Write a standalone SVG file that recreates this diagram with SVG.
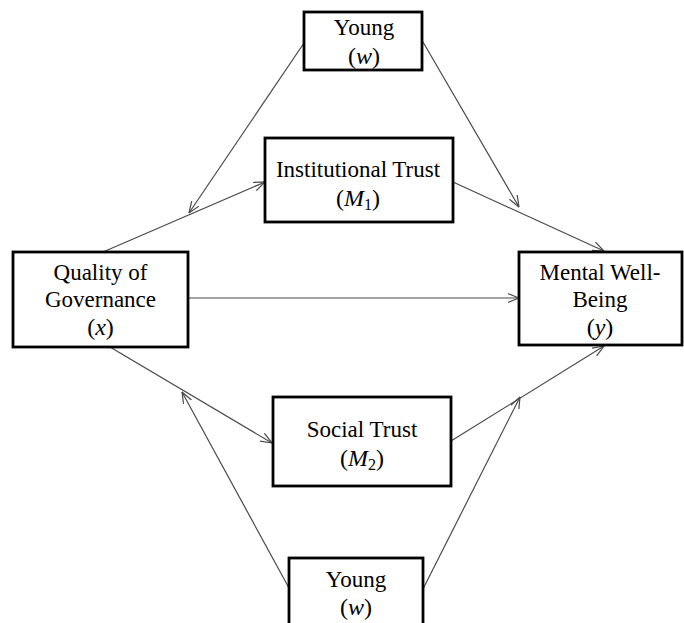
<svg xmlns="http://www.w3.org/2000/svg" width="684" height="623" viewBox="0 0 684 623">
<style>
.box{fill:#fff;stroke:#000;stroke-width:2.8}
.t{font-family:"Liberation Serif","Times New Roman",serif;font-size:23px;fill:#000;text-anchor:middle}
.m{font-style:italic;font-size:24px}
.p{font-size:24px}
.s{font-size:16px}
.c{stroke:#4a4a4a;stroke-width:1.2;fill:none;marker-end:url(#arr)}
</style>
<defs>
<marker id="arr" viewBox="0 0 12 10" refX="11.5" refY="5" markerWidth="12" markerHeight="10" markerUnits="userSpaceOnUse" orient="auto">
<path d="M0,0.5 L11.5,5 L0,9.5" fill="none" stroke="#4a4a4a" stroke-width="1.2"/>
</marker>
</defs>
<rect width="684" height="623" fill="#fff"/>
<g id="connectors">
<line class="c" x1="304" y1="43" x2="189" y2="213"/>
<line class="c" x1="103" y1="252" x2="265" y2="182"/>
<line class="c" x1="423" y1="42" x2="519" y2="207"/>
<line class="c" x1="453" y1="182" x2="604" y2="251"/>
<line class="c" x1="188" y1="298" x2="519" y2="298"/>
<line class="c" x1="110" y1="347" x2="272" y2="443"/>
<line class="c" x1="289" y1="588" x2="182" y2="392"/>
<line class="c" x1="451" y1="441" x2="604" y2="346"/>
<line class="c" x1="423" y1="589" x2="520" y2="397"/>
</g>
<g id="young-top">
<rect class="box" x="304" y="12" width="118" height="58"/>
<text class="t" x="364" y="35">Young</text>
<text class="t" x="364" y="64"><tspan class="p">(</tspan><tspan class="m">w</tspan><tspan class="p">)</tspan></text>
</g>
<g id="institutional-trust">
<rect class="box" x="265" y="138" width="188" height="84"/>
<text class="t" x="358" y="177">Institutional Trust</text>
<text class="t" x="358" y="206"><tspan class="p">(</tspan><tspan class="m">M</tspan><tspan class="s" dy="4">1</tspan><tspan class="p" dy="-4">)</tspan></text>
</g>
<g id="quality-of-governance">
<rect class="box" x="13" y="252" width="175" height="95"/>
<text class="t" x="100.5" y="280">Quality of</text>
<text class="t" x="100.5" y="307">Governance</text>
<text class="t" x="100.5" y="335"><tspan class="p">(</tspan><tspan class="m">x</tspan><tspan class="p">)</tspan></text>
</g>
<g id="mental-well-being">
<rect class="box" x="519" y="252" width="163" height="93"/>
<text class="t" x="600" y="280">Mental Well-</text>
<text class="t" x="600" y="307">Being</text>
<text class="t" x="600" y="335"><tspan class="p">(</tspan><tspan class="m">y</tspan><tspan class="p">)</tspan></text>
</g>
<g id="social-trust">
<rect class="box" x="273" y="397" width="178" height="89"/>
<text class="t" x="362" y="437">Social Trust</text>
<text class="t" x="362" y="466"><tspan class="p">(</tspan><tspan class="m">M</tspan><tspan class="s" dy="4">2</tspan><tspan class="p" dy="-4">)</tspan></text>
</g>
<g id="young-bottom">
<rect class="box" x="289" y="558" width="134" height="70"/>
<text class="t" x="356" y="587">Young</text>
<text class="t" x="356" y="615"><tspan class="p">(</tspan><tspan class="m">w</tspan><tspan class="p">)</tspan></text>
</g>
</svg>
